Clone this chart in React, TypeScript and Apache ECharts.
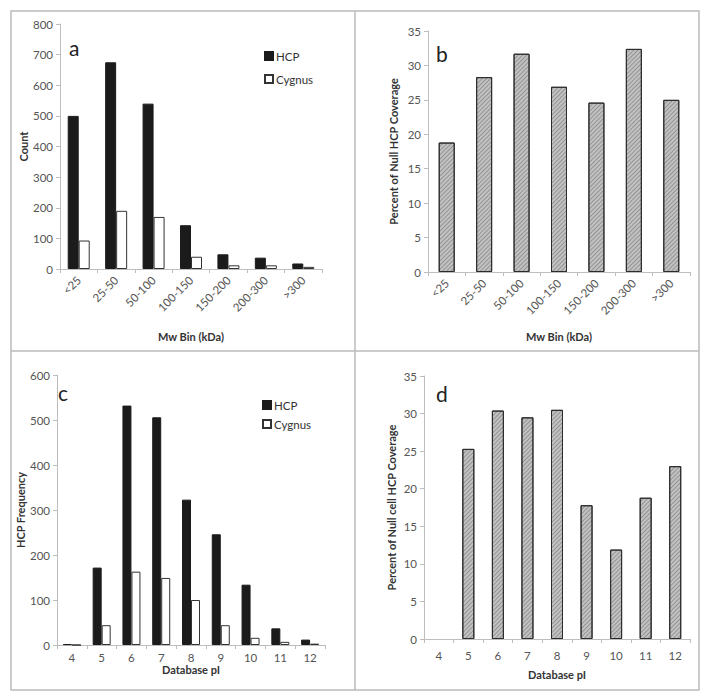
import React, { useEffect, useRef } from "react";
import * as echarts from "echarts";

const mwBins = ["<25", "25-50", "50-100", "100-150", "150-200", "200-300", ">300"];
const mwHcp = [500, 675, 540, 143, 48, 37, 18];
const mwCygnus = [93, 190, 170, 40, 12, 12, 7];
const mwCoverage = [18.8, 28.3, 31.7, 26.9, 24.6, 32.4, 25.0];

const piBins = ["4", "5", "6", "7", "8", "9", "10", "11", "12"];
const piHcp = [2, 172, 532, 506, 323, 246, 134, 37, 12];
const piCygnus = [0, 44, 163, 149, 100, 44, 16, 7, 3];
const piCoverage = [null, 25.3, 30.4, 29.5, 30.5, 17.8, 11.9, 18.8, 23.0];

const FONT = "Lato, 'Open Sans', sans-serif";
const AXIS_COLOR = "#bdbdbd";
const LABEL_COLOR = "#555";
const NAME_COLOR = "#333";

function yAxis(gridIndex: number, max: number, interval: number, name: string, nameGap: number) {
  return {
    type: "value",
    gridIndex,
    min: 0,
    max,
    interval,
    name,
    nameLocation: "middle",
    nameGap,
    nameTextStyle: { fontFamily: FONT, fontSize: 11, fontWeight: "bold", color: NAME_COLOR },
    axisLine: { show: true, lineStyle: { color: AXIS_COLOR, width: 1 } },
    axisTick: { show: true, length: 4, lineStyle: { color: AXIS_COLOR } },
    axisLabel: { fontFamily: FONT, fontSize: 11.5, color: LABEL_COLOR, margin: 7 },
    splitLine: { show: false },
  };
}

function xAxis(gridIndex: number, data: string[], name: string, nameGap: number, rotate: number, margin: number) {
  return {
    type: "category",
    gridIndex,
    data,
    name,
    nameLocation: "middle",
    nameGap,
    nameTextStyle: { fontFamily: FONT, fontSize: 11, fontWeight: "bold", color: NAME_COLOR },
    axisLine: { show: true, lineStyle: { color: AXIS_COLOR, width: 1 } },
    axisTick: { show: true, length: 4, alignWithLabel: false, lineStyle: { color: AXIS_COLOR } },
    axisLabel: { fontFamily: FONT, fontSize: 11.5, color: LABEL_COLOR, rotate, margin, interval: 0 },
    splitLine: { show: false },
  };
}

const hcpStyle = { color: "#1b1b1b", borderColor: "#1b1b1b", borderWidth: 1 };
const cygStyle = { color: "#ffffff", borderColor: "#333", borderWidth: 1 };
const covStyle = {
  color: "#c2c2c2",
  borderColor: "#2b2b2b",
  borderWidth: 1,
  decal: {
    symbol: "rect",
    symbolSize: 1,
    color: "rgba(60,60,60,0.35)",
    dashArrayX: [1, 0],
    dashArrayY: [1, 2],
    rotation: -Math.PI / 4,
  },
};

export default function App() {
  const ref = useRef<HTMLDivElement>(null);
  useEffect(() => {
    if (!ref.current) return;
    const chart = echarts.init(ref.current, undefined, { renderer: "svg" });
    const lineStyle = { stroke: "#bbbbbb", lineWidth: 1.5 };
    chart.setOption({
      animation: false,
      backgroundColor: "#ffffff",
      grid: [
        { left: 60, top: 24, width: 262, height: 245, outerBoundsMode: "none" },
        { left: 428, top: 31, width: 262, height: 241, outerBoundsMode: "none" },
        { left: 57, top: 375, width: 268, height: 270, outerBoundsMode: "none" },
        { left: 424, top: 376, width: 266, height: 263, outerBoundsMode: "none" },
      ],
      xAxis: [
        xAxis(0, mwBins, "Mw Bin (kDa)", 62, 45, 9),
        xAxis(1, mwBins, "Mw Bin (kDa)", 59, 45, 9),
        xAxis(2, piBins, "Database pI", 17, 0, 6),
        xAxis(3, piBins, "Database pI", 30, 0, 10),
      ],
      yAxis: [
        yAxis(0, 800, 100, "Count", 30),
        yAxis(1, 35, 5, "Percent of Null HCP Coverage", 29),
        yAxis(2, 600, 100, "HCP Frequency", 26),
        yAxis(3, 35, 5, "Percent of Null cell HCP Coverage", 27),
      ],
      legend: [
        {
          left: 259, top: 45, orient: "vertical", itemWidth: 8, itemHeight: 8, itemGap: 11,
          icon: "rect", data: ["HCP", "Cygnus"],
          textStyle: { fontFamily: FONT, fontSize: 11.5, color: "#333", padding: [0, 0, 0, -2] },
        },
        {
          left: 257, top: 394, orient: "vertical", itemWidth: 8, itemHeight: 8, itemGap: 7,
          icon: "rect", data: ["HCP", "Cygnus"],
          textStyle: { fontFamily: FONT, fontSize: 11.5, color: "#333", padding: [0, 0, 0, -2] },
        },
      ],
      series: [
        { type: "bar", name: "HCP", xAxisIndex: 0, yAxisIndex: 0, data: mwHcp, barWidth: 11, barGap: "0%", itemStyle: hcpStyle },
        { type: "bar", name: "Cygnus", xAxisIndex: 0, yAxisIndex: 0, data: mwCygnus, barWidth: 11, barGap: "0%", itemStyle: cygStyle },
        { type: "bar", name: "Coverage", xAxisIndex: 1, yAxisIndex: 1, data: mwCoverage, barWidth: 16, itemStyle: covStyle },
        { type: "bar", name: "HCP", xAxisIndex: 2, yAxisIndex: 2, data: piHcp, barWidth: 9, barGap: "0%", itemStyle: hcpStyle },
        { type: "bar", name: "Cygnus", xAxisIndex: 2, yAxisIndex: 2, data: piCygnus, barWidth: 9, barGap: "0%", itemStyle: cygStyle },
        { type: "bar", name: "Coverage pI", xAxisIndex: 3, yAxisIndex: 3, data: piCoverage, barWidth: 12, itemStyle: covStyle },
      ],
      graphic: [
        { type: "rect", shape: { x: 11, y: 11, width: 688, height: 679 }, style: { fill: "none", stroke: "#bbbbbb", lineWidth: 1.5 }, silent: true },
        { type: "line", shape: { x1: 355, y1: 11, x2: 355, y2: 690 }, style: lineStyle, silent: true },
        { type: "line", shape: { x1: 11, y1: 351, x2: 699, y2: 351 }, style: lineStyle, silent: true },
        { type: "text", x: 69, y: 47, style: { text: "a", fontFamily: FONT, fontSize: 21, fill: "#222", verticalAlign: "middle" } },
        { type: "text", x: 436, y: 53, style: { text: "b", fontFamily: FONT, fontSize: 21, fill: "#222", verticalAlign: "middle" } },
        { type: "text", x: 58, y: 392, style: { text: "c", fontFamily: FONT, fontSize: 21, fill: "#222", verticalAlign: "middle" } },
        { type: "text", x: 436, y: 393, style: { text: "d", fontFamily: FONT, fontSize: 21, fill: "#222", verticalAlign: "middle" } },
      ],
    });
    return () => chart.dispose();
  }, []);
  return <div ref={ref} style={{ position: "absolute", left: 0, top: 0, width: 705, height: 696 }} />;
}
